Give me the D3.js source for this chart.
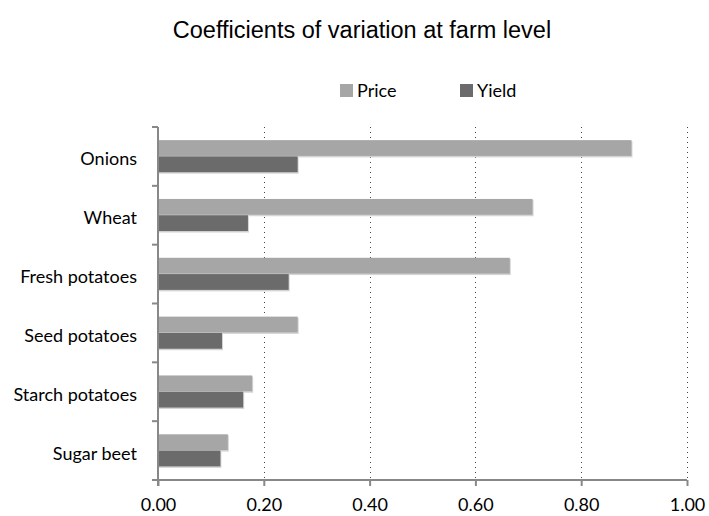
<!DOCTYPE html>
<html>
<head>
<meta charset="utf-8">
<script src="https://cdn.jsdelivr.net/npm/d3@7"></script>
<style>
  html, body { margin: 0; padding: 0; background: #fff; }
  svg { display: block; }
  .lbl { font-family: Lato, "Open Sans", sans-serif; fill: #000; }
</style>
</head>
<body>
<svg id="chart" width="709" height="516"></svg>
<script>
// Crops, listed top to bottom
const categories = ["Onions", "Wheat", "Fresh potatoes", "Seed potatoes", "Starch potatoes", "Sugar beet"];
const seriesNames = ["Price", "Yield"];
const priceValues = [0.895, 0.708, 0.665, 0.264, 0.178, 0.132];
const yieldValues = [0.264, 0.170, 0.247, 0.121, 0.161, 0.118];
const xTicks = [0, 0.2, 0.4, 0.6, 0.8, 1.0];
const titleText = "Coefficients of variation at farm level";

const colors = { Price: "#a6a6a6", Yield: "#6b6b6b" };
const axisColor = "#888888";

const svg = d3.select("#chart");
const plot = { left: 158, right: 687, top: 127, bottom: 480 };

const x = d3.scaleLinear().domain([0, 1]).range([plot.left, plot.right]);
const y = d3.scaleBand().domain(categories)
  .range([plot.top, plot.bottom])
  .paddingInner(0.446).paddingOuter(0.223);
const ySub = d3.scaleBand().domain(seriesNames).range([0, y.bandwidth()]);

const rows = categories.map((c, i) => ({ cat: c, Price: priceValues[i], Yield: yieldValues[i] }));

// Title
svg.append("text")
  .attr("x", 362).attr("y", 38)
  .attr("text-anchor", "middle")
  .style("font-family", "'Liberation Sans', Arial, sans-serif")
  .style("font-size", "23.5px")
  .text(titleText);

// Legend
const legend = svg.append("g");
const legendX = [340, 460];
seriesNames.forEach((s, i) => {
  legend.append("rect").attr("x", legendX[i]).attr("y", 84).attr("width", 13).attr("height", 13)
    .attr("fill", colors[s]);
  legend.append("text").attr("class", "lbl").attr("x", legendX[i] + 17).attr("y", 97)
    .style("font-size", "18px").text(s);
});

// Dotted vertical gridlines
svg.append("g").selectAll("line")
  .data(xTicks.filter(t => t > 0))
  .join("line")
  .attr("x1", d => Math.round(x(d)) + 0.5).attr("x2", d => Math.round(x(d)) + 0.5)
  .attr("y1", plot.top).attr("y2", plot.bottom)
  .attr("stroke", "#444").attr("stroke-width", 1)
  .attr("stroke-dasharray", "1,4");

// Bars with a faint drop edge
const groups = svg.append("g").selectAll("g")
  .data(rows).join("g")
  .attr("transform", d => `translate(0,${y(d.cat)})`);

groups.selectAll("rect.shadow")
  .data(d => seriesNames.map(s => ({ s, v: d[s] })))
  .join("rect").attr("class", "shadow")
  .attr("x", x(0) + 1).attr("y", d => ySub(d.s) + 1)
  .attr("width", d => x(d.v) - x(0)).attr("height", ySub.bandwidth())
  .attr("fill", "#d4d4d4");

groups.selectAll("rect.bar")
  .data(d => seriesNames.map(s => ({ s, v: d[s] })))
  .join("rect").attr("class", "bar")
  .attr("x", x(0)).attr("y", d => ySub(d.s))
  .attr("width", d => x(d.v) - x(0)).attr("height", ySub.bandwidth() - 0.5)
  .attr("fill", d => colors[d.s]);

// X axis
const xAxis = svg.append("g").attr("transform", `translate(0,${plot.bottom})`)
  .call(d3.axisBottom(x).tickValues(xTicks).tickFormat(d3.format(".2f")).tickSize(6).tickPadding(8));
xAxis.select(".domain").attr("stroke", axisColor).attr("stroke-width", 2)
  .attr("d", `M${plot.left - 6},0H${plot.right}`);
xAxis.selectAll(".tick line").attr("stroke", axisColor).attr("stroke-width", 2);
xAxis.selectAll(".tick text").attr("class", "lbl").style("font-size", "18px")
  .attr("y", 14).attr("dy", "0.95em");

// Y axis: line with category boundary ticks
const yAxis = svg.append("g");
yAxis.append("line")
  .attr("x1", plot.left).attr("x2", plot.left)
  .attr("y1", plot.top).attr("y2", plot.bottom + 6)
  .attr("stroke", axisColor).attr("stroke-width", 2);
const bounds = categories.map(c => y(c) - y.step() * y.paddingOuter()).concat([plot.bottom]);
yAxis.selectAll("line.tk").data(bounds).join("line").attr("class", "tk")
  .attr("x1", plot.left - 6).attr("x2", plot.left)
  .attr("y1", d => d).attr("y2", d => d)
  .attr("stroke", axisColor).attr("stroke-width", 2);
yAxis.selectAll("text").data(categories).join("text")
  .attr("class", "lbl")
  .attr("x", 137).attr("y", d => y(d) + y.bandwidth() / 2 + 9)
  .attr("text-anchor", "end")
  .style("font-size", "18px")
  .text(d => d);
</script>
</body>
</html>
